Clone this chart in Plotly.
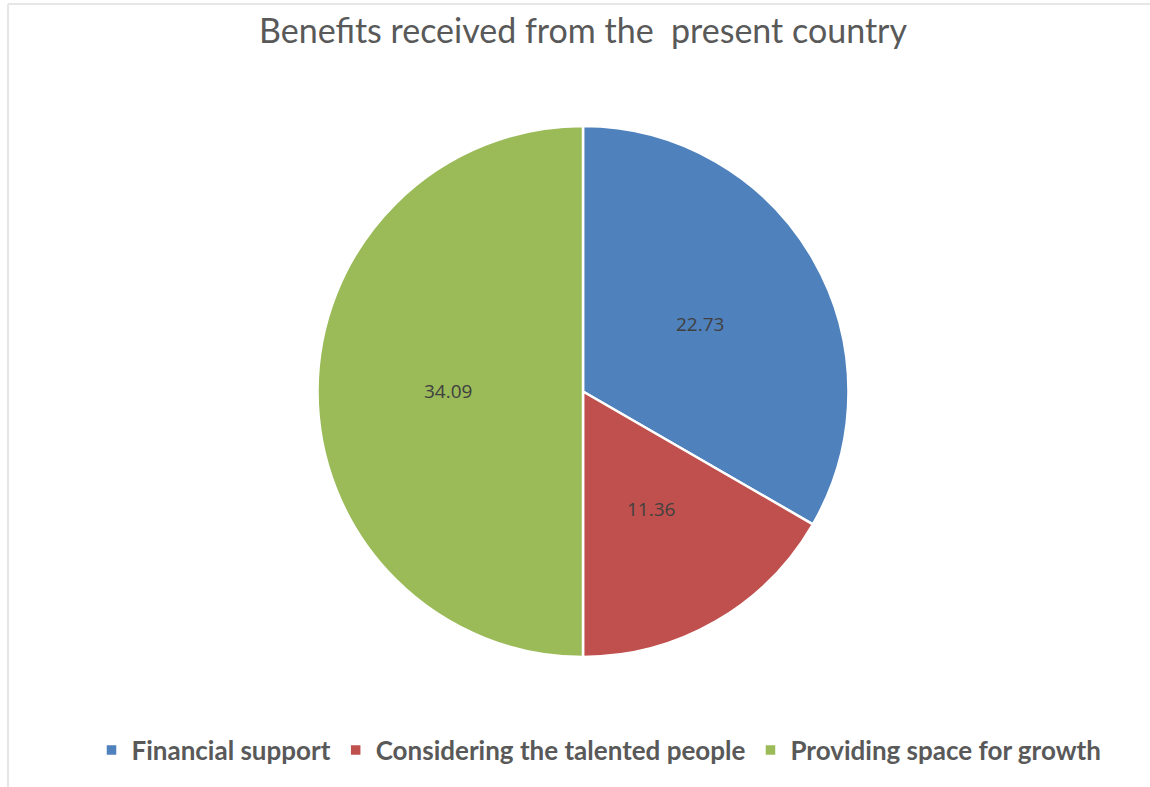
import math
import plotly.graph_objects as go

# Chart data
categories = ["Financial support", "Considering the talented people", "Providing space for growth"]
values = [22.73, 11.36, 34.09]
colors = ["#4F81BD", "#C0504D", "#9BBB59"]

W, H = 1150, 787
cx, cy, R = 583, 391.5, 265.5  # pie centre and radius in pixels

fig = go.Figure(
    go.Pie(
        labels=categories,
        values=values,
        sort=False,
        direction="clockwise",
        rotation=0,
        textinfo="none",
        hoverinfo="label+value",
        marker=dict(colors=colors, line=dict(color="white", width=2.5)),
        domain=dict(x=[(cx - R) / W, (cx + R) / W], y=[1 - (cy + R) / H, 1 - (cy - R) / H]),
    )
)

# Value labels placed along each slice's bisector
total = sum(values)
annotations = []
start = 0.0
for v in values:
    mid = (start + v / 2) / total * 2 * math.pi
    start += v
    r = 0.51 * R
    px = cx + r * math.sin(mid)
    py = cy - r * math.cos(mid)
    annotations.append(
        dict(
            x=px / W, y=1 - py / H, xref="paper", yref="paper",
            text=f"{v:.2f}", showarrow=False,
            font=dict(family="Open Sans", size=19, color="#404040"),
        )
    )

fig.update_layout(
    width=W,
    height=H,
    margin=dict(l=0, r=0, t=0, b=0),
    paper_bgcolor="white",
    plot_bgcolor="white",
    title=dict(
        text="Benefits received from the\u00a0 present country",
        x=583 / W, xanchor="center",
        y=1 - 31 / H, yanchor="middle",
        font=dict(family="Lato", size=34, color="#595959"),
    ),
    legend=dict(
        orientation="h",
        x=599 / W, xanchor="center",
        y=1 - 750 / H, yanchor="middle",
        font=dict(family="Lato", size=26, color="#595959", weight="bold"),
        itemwidth=30,
        traceorder="normal",
    ),
    annotations=annotations,
    shapes=[
        dict(type="line", xref="paper", yref="paper", x0=8 / W, x1=1, y0=1 - 4 / H, y1=1 - 4 / H,
             line=dict(color="#E6E6E6", width=2)),
        dict(type="line", xref="paper", yref="paper", x0=8 / W, x1=8 / W, y0=0, y1=1 - 4 / H,
             line=dict(color="#E6E6E6", width=2)),
    ],
)

fig.write_html("out.html")
